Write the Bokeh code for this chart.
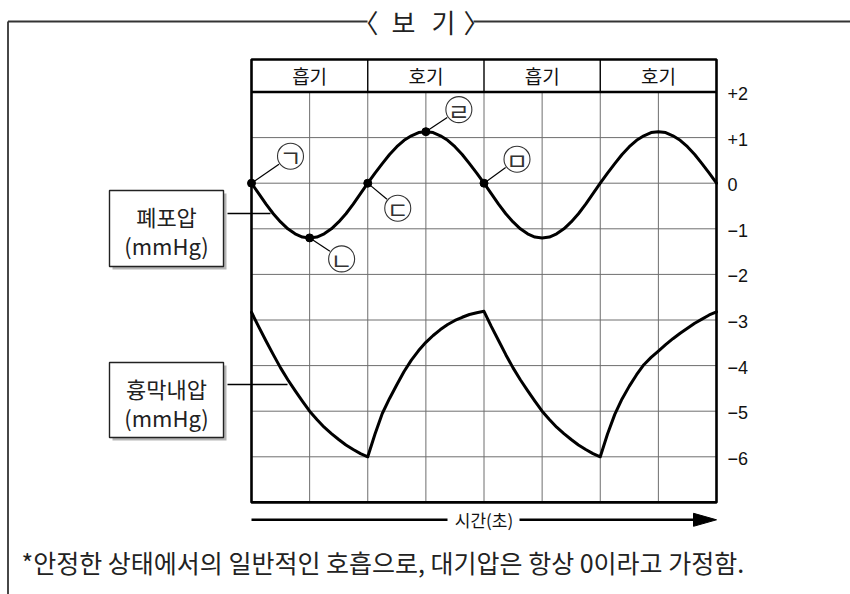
from bokeh.plotting import figure
from bokeh.models import Range1d
from bokeh.core.properties import value
from bokeh.embed import file_html
from bokeh.resources import INLINE

# ---------------- data ----------------
time = [0, 0.125, 0.25, 0.375, 0.5, 0.625, 0.75, 0.875, 1, 1.125, 1.25, 1.375, 1.5, 1.625, 1.75, 1.875,
        2, 2.125, 2.25, 2.375, 2.5, 2.625, 2.75, 2.875, 3, 3.125, 3.25, 3.375, 3.5, 3.625, 3.75, 3.875,
        4, 4.125, 4.25, 4.375, 4.5, 4.625, 4.75, 4.875, 5, 5.125, 5.25, 5.375, 5.5, 5.625, 5.75, 5.875,
        6, 6.125, 6.25, 6.375, 6.5, 6.625, 6.75, 6.875, 7, 7.125, 7.25, 7.375, 7.5, 7.625, 7.75, 7.875,
        8]
alveolar = [0, -0.23, -0.46, -0.67, -0.85, -1.0, -1.11, -1.18, -1.2, -1.18, -1.11, -1.0, -0.85, -0.67, -0.46, -0.23,
            0, 0.22, 0.43, 0.63, 0.80, 0.94, 1.04, 1.11, 1.13, 1.11, 1.04, 0.94, 0.80, 0.63, 0.43, 0.22,
            0, -0.23, -0.46, -0.67, -0.85, -1.0, -1.11, -1.18, -1.2, -1.18, -1.11, -1.0, -0.85, -0.67, -0.46, -0.23,
            0, 0.22, 0.43, 0.63, 0.80, 0.94, 1.04, 1.11, 1.13, 1.11, 1.04, 0.94, 0.80, 0.63, 0.43, 0.22,
            0]
pleural = [-2.83, -3.15, -3.46, -3.76, -4.05, -4.31, -4.55, -4.78, -5.0, -5.18, -5.35, -5.49, -5.62, -5.74, -5.84, -5.93,
           -6.0, -5.5, -5.05, -4.72, -4.42, -4.13, -3.88, -3.67, -3.49, -3.34, -3.21, -3.1, -3.01, -2.94, -2.88, -2.84,
           -2.81, -3.14, -3.45, -3.76, -4.05, -4.31, -4.55, -4.78, -5.0, -5.18, -5.35, -5.49, -5.62, -5.74, -5.84, -5.93,
           -6.0, -5.5, -5.07, -4.73, -4.45, -4.2, -3.98, -3.82, -3.68, -3.54, -3.41, -3.29, -3.18, -3.07, -2.98, -2.89,
           -2.82]

phase_labels = ["흡기", "호기", "흡기", "호기"]
phase_centers = [1, 3, 5, 7]
phase_dividers = [2, 4, 6]
x_grid = [1, 2, 3, 4, 5, 6, 7]
y_grid = [1, 0, -1, -2, -3, -4, -5, -6]
y_ticks = [2, 1, 0, -1, -2, -3, -4, -5, -6]
y_tick_labels = ["+2", "+1", "0", "−1", "−2", "−3", "−4", "−5", "−6"]
x_min, x_max = 0, 8
y_min, y_max = -7, 2
point_idx = [0, 8, 16, 24, 32]
point_letters = ["ㄱ", "ㄴ", "ㄷ", "ㄹ", "ㅁ"]
series_names = [("폐포압", "(mmHg)"), ("흉막내압", "(mmHg)")]
axis_label = "시간(초)"
title_parts = ["〈", "보", "기", "〉"]
footnote = "*안정한 상태에서의 일반적인 호흡으로, 대기압은 항상 0이라고 가정함."

# ---------------- layout (page pixels) ----------------
W, H, M = 850, 594, 0
X0PX, SX = 251.0, 58.125   # page x of time 0, pixels per column
Y0PX, SY = 182.7, 45.6     # page y of value 0, pixels per unit


def fx(px):
    return (px - X0PX) / SX


def fy(py):
    return (Y0PX - py) / SY


def px_x(v):
    return X0PX + v * SX


def px_y(v):
    return Y0PX - v * SY


KR = value("Noto Sans CJK KR")
LAT = value("Liberation Sans")

p = figure(width=W, height=H, x_range=Range1d(fx(M), fx(M + W)),
           y_range=Range1d(fy(M + H), fy(M)), min_border=0,
           toolbar_location=None, output_backend="svg",
           x_axis_location=None, y_axis_location=None)
p.outline_line_color = None
p.background_fill_color = "white"
p.border_fill_color = "white"
p.grid.visible = False

# ---------- outer "보기" frame ----------
frame_col = "#333333"
p.segment(x0=[fx(7.5), fx(473)], y0=[fy(21), fy(21)], x1=[fx(367), fx(850)], y1=[fy(21), fy(21)],
          line_color=frame_col, line_width=1.8)
p.segment(x0=[fx(7.5)], y0=[fy(21)], x1=[fx(7.5)], y1=[fy(600)], line_color=frame_col, line_width=1.8)
tsize = "26px"
p.text(x=[fx(378)], y=[fy(21)], text=[title_parts[0]], text_font=KR, text_font_size=tsize,
       text_align="right", text_baseline="middle", text_color="#222222")
p.text(x=[fx(403), fx(443)], y=[fy(21), fy(21)], text=title_parts[1:3], text_font=KR,
       text_font_size=tsize, text_align="center", text_baseline="middle", text_color="#222222")
p.text(x=[fx(463)], y=[fy(21)], text=[title_parts[3]], text_font=KR, text_font_size=tsize,
       text_align="left", text_baseline="middle", text_color="#222222")

# ---------- grid ----------
grid_col = "#6e6e6e"
p.segment(x0=x_grid, y0=[y_min] * len(x_grid), x1=x_grid, y1=[y_max] * len(x_grid),
          line_color=grid_col, line_width=1)
p.segment(x0=[x_min] * len(y_grid), y0=y_grid, x1=[x_max] * len(y_grid), y1=y_grid,
          line_color=grid_col, line_width=1)

# ---------- header row ----------
head_top = fy(59)
p.segment(x0=phase_dividers, y0=[y_max] * 3, x1=phase_dividers, y1=[head_top] * 3,
          line_color="black", line_width=1.4)
p.segment(x0=[x_min], y0=[y_max], x1=[x_max], y1=[y_max], line_color="black", line_width=2.4)
p.text(x=phase_centers, y=[fy(75)] * 4, text=phase_labels, text_font=KR, text_font_size="19px",
       text_align="center", text_baseline="middle", text_color="#111111")

# plot border
p.quad(left=[x_min], right=[x_max], bottom=[y_min], top=[head_top], fill_color=None,
       line_color="black", line_width=2.6)

# ---------- y tick labels ----------
p.text(x=[fx(727)] * len(y_ticks), y=[fy(px_y(v) + 1.5) for v in y_ticks], text=y_tick_labels,
       text_font=LAT, text_font_size="18px", text_align="left", text_baseline="middle",
       text_color="#111111")

# ---------- curves ----------
p.line(time, alveolar, line_color="black", line_width=3, line_join="round", line_cap="round")
p.line(time, pleural, line_color="black", line_width=3, line_join="round", line_cap="round")

# ---------- labelled points ----------
offsets = [(39, -27), (32, 21), (30, 25), (33, -22), (33, -24)]
dot_x = [time[i] for i in point_idx]
dot_y = [alveolar[i] for i in point_idx]
lx0, ly0, lx1, ly1, cx, cy = [], [], [], [], [], []
for xv, yv, (ox, oy) in zip(dot_x, dot_y, offsets):
    bx, by = px_x(xv), px_y(yv)
    d = (ox * ox + oy * oy) ** 0.5
    ux, uy = ox / d, oy / d
    lx0.append(fx(bx + 3 * ux)); ly0.append(fy(by + 3 * uy))
    lx1.append(fx(bx + ox - 14 * ux)); ly1.append(fy(by + oy - 14 * uy))
    cx.append(fx(bx + ox)); cy.append(fy(by + oy))
p.segment(x0=lx0, y0=ly0, x1=lx1, y1=ly1, line_color="black", line_width=1.2)
p.scatter(dot_x, dot_y, size=8, color="black")
p.scatter(cx, cy, size=26, marker="circle", fill_color="white", line_color="#333333", line_width=1.1)
p.text(x=cx, y=[v - 0.5 / SY for v in cy], text=point_letters, text_font=KR, text_font_size="24px",
       text_align="center", text_baseline="middle", text_color="#333333")

# ---------- series name boxes ----------
boxes = [(109, 223, 190, 266, 213, 270), (109, 223, 362, 437, 384, 287)]
for (bl, br, bt, bb, ly, lend), (n1, n2) in zip(boxes, series_names):
    p.quad(left=[fx(bl + 3)], right=[fx(br + 3)], top=[fy(bt + 3)], bottom=[fy(bb + 3)],
           fill_color="#b5b5b5", line_color=None)
    p.quad(left=[fx(bl)], right=[fx(br)], top=[fy(bt)], bottom=[fy(bb)],
           fill_color="white", line_color="#222222", line_width=1.4)
    p.segment(x0=[fx(br + 4)], y0=[fy(ly)], x1=[fx(lend)], y1=[fy(ly)], line_color="black",
              line_width=1.3)
    mid = (bl + br) / 2
    p.text(x=[fx(mid)], y=[fy(bt + 25)], text=[n1], text_font=KR, text_font_size="22px",
           text_align="center", text_baseline="middle", text_color="#222222")
    p.text(x=[fx(mid)], y=[fy(bt + 54)], text=[n2], text_font=KR, text_font_size="22px",
           text_align="center", text_baseline="middle", text_color="#222222")

# ---------- time arrow ----------
ay = 519.3
p.segment(x0=[x_min], y0=[fy(ay)], x1=[fx(696)], y1=[fy(ay)], line_color="black", line_width=2.6)
p.patch(x=[fx(693), fx(716), fx(693)], y=[fy(ay - 6.5), fy(ay), fy(ay + 6.5)], fill_color="black",
        line_color="black", line_width=1)
p.quad(left=[fx(447)], right=[fx(519)], top=[fy(ay - 9)], bottom=[fy(ay + 9)], fill_color="white",
       line_color=None)
p.text(x=[4], y=[fy(ay)], text=[axis_label], text_font=KR, text_font_size="17px",
       text_align="center", text_baseline="middle", text_color="#111111")

# ---------- footnote ----------
p.text(x=[fx(21)], y=[fy(561)], text=[footnote], text_font=KR, text_font_size="25px",
       text_align="left", text_baseline="middle", text_color="#222222")

open("out.html", "w").write(file_html(p, INLINE))
